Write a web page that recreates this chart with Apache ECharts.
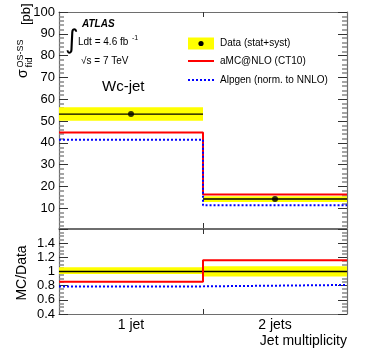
<!DOCTYPE html>
<html>
<head>
<meta charset="utf-8">
<script src="https://cdn.jsdelivr.net/npm/echarts@6/dist/echarts.min.js"></script>
<style>
html, body { margin: 0; padding: 0; background: #fff; }
#chart { width: 366px; height: 352px; }
</style>
</head>
<body>
<div id="chart"></div>
<script>
// bins (jet multiplicity)
var categories = ['1 jet', '2 jets'];
var binEdges = [0.5, 1.5, 2.5];

// fiducial cross section, pb
var dataXsec = [53.2, 14.3];
var dataLo = [50.1, 12.9];
var dataHi = [56.3, 15.6];
var amcnlo = [44.8, 16.4];
var alpgen = [41.4, 11.4];

// MC/Data
var ratioBandLo = [0.965, 0.93];
var ratioBandHi = [1.06, 1.075];
var ratioAmc = [0.855, 1.16];
var ratioAlp = [0.79, 0.81];

// tick values
var xsecTicks = [10, 20, 30, 40, 50, 60, 70, 80, 90, 100];
var xsecMinorStep = 2;

var FONT = '"Liberation Sans", Arial, sans-serif';
var FRAME = '#6e6e6e';

var xsecMinor = [];
for (var v = xsecMinorStep; v < 100; v += xsecMinorStep) {
  if (v % 10 !== 0) xsecMinor.push(v);
}

function steps(vals) {
  var pts = vals.map(function (val, i) { return [binEdges[i], val]; });
  pts.push([binEdges[vals.length], vals[vals.length - 1]]);
  return pts;
}
function bandRows(lo, hi, mid) {
  return lo.map(function (l, i) { return [binEdges[i], binEdges[i + 1], l, hi[i], mid[i]]; });
}
var centers = categories.map(function (c, i) { return (binEdges[i] + binEdges[i + 1]) / 2; });

function renderBand(params, api) {
  var p0 = api.coord([api.value(0), api.value(3)]);
  var p1 = api.coord([api.value(1), api.value(2)]);
  var c = api.coord([api.value(0), api.value(4)]);
  return {
    type: 'group',
    children: [
      { type: 'rect', shape: { x: p0[0], y: p0[1], width: p1[0] - p0[0], height: p1[1] - p0[1] },
        style: { fill: '#ffff00' } },
      { type: 'line', shape: { x1: p0[0], y1: c[1], x2: p1[0], y2: c[1] },
        style: { stroke: '#000', lineWidth: 1.3 } }
    ]
  };
}

function xAx(grid, pos, labels) {
  return {
    type: 'value', gridIndex: grid, position: pos, min: 0.5, max: 2.5,
    axisLine: { lineStyle: { color: FRAME, width: 1.2 } },
    axisTick: { inside: true, length: 5, customValues: [binEdges[1]], lineStyle: { color: '#333' } },
    axisLabel: labels ? {
      customValues: centers, margin: 4, fontSize: 14, fontFamily: FONT, color: '#000',
      formatter: function (val) { return categories[centers.indexOf(val)] || ''; }
    } : { show: false },
    splitLine: { show: false }
  };
}

function yMajor(pos, labels) {
  return {
    type: 'value', gridIndex: 0, position: pos, min: 1, max: 100,
    axisLine: { show: true, lineStyle: { color: FRAME, width: 1.2 } },
    axisTick: { inside: true, length: 9, customValues: xsecTicks, lineStyle: { color: '#333' } },
    axisLabel: labels ? { customValues: xsecTicks, margin: 4, fontSize: 13, fontFamily: FONT, color: '#000' } : { show: false },
    splitLine: { show: false }
  };
}
function yMinor(pos) {
  return {
    type: 'value', gridIndex: 0, position: pos, min: 1, max: 100,
    axisLine: { show: false },
    axisTick: { inside: true, length: 5, customValues: xsecMinor, lineStyle: { color: '#888', width: 1.5 } },
    axisLabel: { show: false },
    splitLine: { show: false }
  };
}
function yRatio(pos, labels) {
  return {
    type: 'value', gridIndex: 1, position: pos, min: 0.4, max: 1.6, interval: 0.2,
    axisLine: { show: true, lineStyle: { color: FRAME, width: 1.2 } },
    axisTick: { inside: true, length: 9, lineStyle: { color: '#333' } },
    minorTick: { show: true, splitNumber: 4, length: 5, lineStyle: { color: '#888', width: 1.5 } },
    axisLabel: labels ? { showMaxLabel: false, margin: 4, fontSize: 13, fontFamily: FONT, color: '#000' } : { show: false },
    splitLine: { show: false }
  };
}

function rot(text, x, y, size, align) {
  return {
    type: 'text', x: x, y: y, rotation: Math.PI / 2,
    style: { text: text, fontSize: size, fontFamily: FONT, fill: '#000', align: align || 'left', verticalAlign: 'middle' }
  };
}
function txt(text, x, y, size, extra) {
  var st = { text: text, fontSize: size, fontFamily: FONT, fill: '#000', align: 'left', verticalAlign: 'middle' };
  for (var k in extra) st[k] = extra[k];
  return { type: 'text', x: x, y: y, style: st };
}

var chart = echarts.init(document.getElementById('chart'));
chart.setOption({
  animation: false,
  backgroundColor: '#fff',
  grid: [
    { left: 59, top: 12, width: 288, height: 216 },
    { left: 59, top: 229, width: 288, height: 85 }
  ],
  xAxis: [xAx(0, 'bottom'), xAx(0, 'top'), xAx(1, 'bottom', true), xAx(1, 'top')],
  yAxis: [yMajor('left', true), yMajor('right'), yMinor('left'), yMinor('right'), yRatio('left', true), yRatio('right')],
  series: [
    {
      type: 'custom', xAxisIndex: 0, yAxisIndex: 0, renderItem: renderBand,
      encode: { x: [0, 1], y: [2, 3, 4] }, data: bandRows(dataLo, dataHi, dataXsec), z: 1
    },
    {
      name: 'aMC@NLO (CT10)', type: 'line', xAxisIndex: 0, yAxisIndex: 0, step: 'end', symbol: 'none',
      lineStyle: { color: '#ff0000', width: 2 }, data: steps(amcnlo), z: 3
    },
    {
      name: 'Alpgen (norm. to NNLO)', type: 'line', xAxisIndex: 0, yAxisIndex: 0, step: 'end', symbol: 'none',
      lineStyle: { color: '#0000ff', width: 2, type: [2, 2] }, data: steps(alpgen), z: 3
    },
    {
      name: 'Data (stat+syst)', type: 'scatter', xAxisIndex: 0, yAxisIndex: 0, symbolSize: 6,
      itemStyle: { color: '#000' }, data: centers.map(function (c, i) { return [c, dataXsec[i]]; }), z: 5
    },
    {
      type: 'custom', xAxisIndex: 2, yAxisIndex: 4, renderItem: renderBand,
      encode: { x: [0, 1], y: [2, 3, 4] }, data: bandRows(ratioBandLo, ratioBandHi, [1, 1]), z: 1
    },
    {
      type: 'line', xAxisIndex: 2, yAxisIndex: 4, step: 'end', symbol: 'none',
      lineStyle: { color: '#ff0000', width: 2 }, data: steps(ratioAmc), z: 3
    },
    {
      type: 'line', xAxisIndex: 2, yAxisIndex: 4, step: 'end', symbol: 'none',
      lineStyle: { color: '#0000ff', width: 2, type: [2, 2] }, data: steps(ratioAlp), z: 3
    }
  ],
  graphic: [
    // legend
    { type: 'rect', shape: { x: 188, y: 37.5, width: 26, height: 12 }, style: { fill: '#ffff00' } },
    { type: 'circle', shape: { cx: 201, cy: 43.5, r: 2.6 }, style: { fill: '#000' } },
    txt('Data (stat+syst)', 220, 43.5, 10),
    { type: 'line', shape: { x1: 188, y1: 61, x2: 214, y2: 61 }, style: { stroke: '#ff0000', lineWidth: 2 } },
    txt('aMC@NLO (CT10)', 220, 61, 10),
    { type: 'line', shape: { x1: 188, y1: 80, x2: 214, y2: 80 }, style: { stroke: '#0000ff', lineWidth: 2, lineDash: [2, 2] } },
    txt('Alpgen (norm. to NNLO)', 220, 80, 10),
    // labels
    txt('ATLAS', 82, 24, 10, { fontWeight: 'bold', fontStyle: 'italic' }),
    txt('\u222B', 65, 41, 26, { fontFamily: '"DejaVu Sans", sans-serif' }),
    txt('Ldt = 4.6 fb', 78, 42.5, 10),
    txt('-1', 132, 38, 7),
    txt('\u221As = 7 TeV', 81, 61, 10),
    txt('Wc-jet', 102, 86.5, 15),
    // axis titles
    rot('\u03C3', 23, 78, 14),
    rot('fid', 29, 67.5, 9.5),
    rot('OS-SS', 20.5, 67.5, 9),
    rot('[pb]', 26.5, 25, 13),
    rot('MC/Data', 22, 273, 14, 'center'),
    txt('Jet multiplicity', 347, 341.5, 14, { align: 'right' })
  ]
});
</script>
</body>
</html>
